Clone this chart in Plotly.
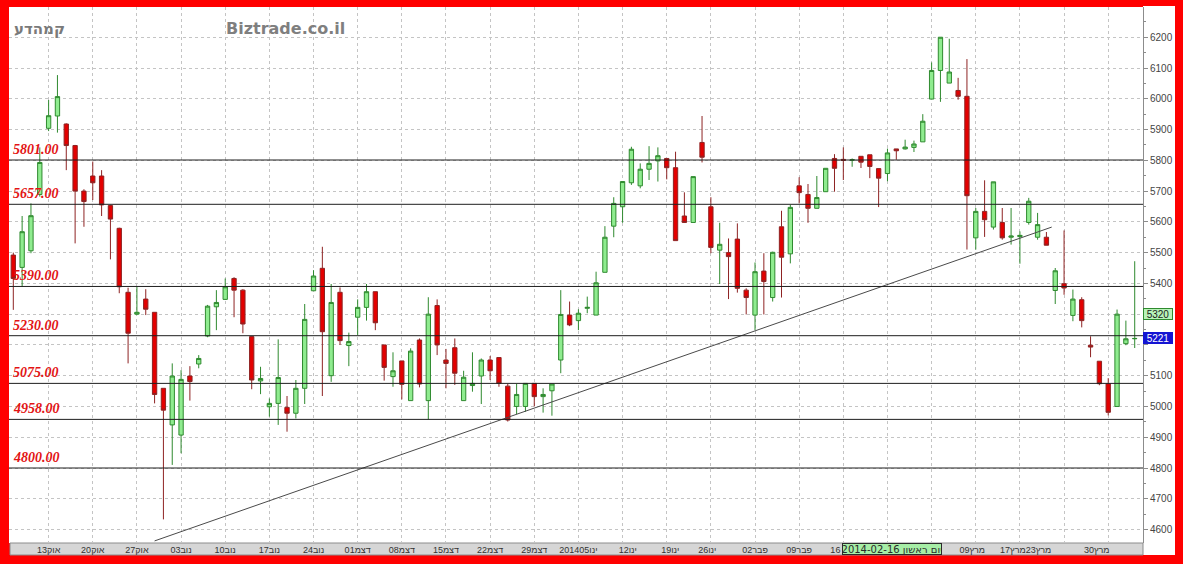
import plotly.graph_objects as go

# ---------------- data ----------------
opens = [5492, 5452, 5506, 5689, 5904, 5944, 5918, 5848, 5700, 5749,
         5749, 5653, 5579, 5371, 5300, 5349, 5306, 5059, 4940, 4907,
         5099, 5138, 5229, 5324, 5348, 5416, 5378, 5227, 5083, 4999,
         5010, 4997, 4978, 5059, 5376, 5449, 5100, 5371, 5198, 5290,
         5322, 5373, 5200, 5097, 5148, 5019, 5216, 5019, 5328, 5151,
         5191, 5019, 5068, 5099, 5151, 5159, 5066, 5000, 5000, 5075,
         5032, 5051, 5151, 5297, 5279, 5319, 5297, 5436, 5586, 5649,
         5727, 5717, 5771, 5798, 5806, 5776, 5619, 5598, 5858, 5649,
         5508, 5500, 5544, 5378, 5297, 5440, 5354, 5584, 5496, 5717,
         5689, 5644, 5698, 5806, 5803, 5800, 5813, 5818, 5773, 5757,
         5837, 5837, 5842, 5860, 5999, 6092, 6051, 6027, 6008, 5548,
         5634, 5583, 5598, 5550, 5552, 5598, 5550, 5550, 5377, 5399,
         5296, 5347, 5199, 5147, 5074, 5000, 5204, 5220]
highs = [5500, 5619, 5660, 5842, 5996, 6077, 5920, 5850, 5706, 5796,
         5768, 5655, 5581, 5386, 5389, 5381, 5306, 5059, 5140, 5118,
         5131, 5167, 5330, 5378, 5416, 5420, 5381, 5227, 5129, 5026,
         5218, 5034, 5086, 5333, 5443, 5519, 5398, 5387, 5240, 5348,
         5398, 5373, 5200, 5176, 5148, 5189, 5221, 5355, 5348, 5187,
         5221, 5116, 5176, 5156, 5164, 5159, 5073, 5073, 5075, 5075,
         5059, 5073, 5378, 5341, 5316, 5357, 5438, 5586, 5680, 5731,
         5844, 5790, 5846, 5842, 5806, 5828, 5696, 5747, 5944, 5680,
         5597, 5546, 5595, 5384, 5468, 5498, 5503, 5636, 5655, 5745,
         5723, 5749, 5774, 5820, 5842, 5806, 5813, 5818, 5773, 5838,
         5837, 5867, 5864, 5950, 6118, 6200, 6195, 6068, 6129, 5645,
         5735, 5730, 5645, 5645, 5569, 5678, 5629, 5567, 5450, 5572,
         5380, 5355, 5228, 5147, 5092, 5315, 5279, 5472]
lows = [5314, 5389, 5498, 5682, 5895, 5890, 5768, 5530, 5584, 5671,
        5619, 5478, 5368, 5140, 5297, 5297, 5010, 4633, 4810, 4848,
        5019, 5124, 5225, 5248, 5346, 5290, 5238, 5056, 5040, 4967,
        4940, 4918, 4961, 5008, 5376, 5034, 5080, 5200, 5131, 5232,
        5279, 5248, 5084, 5064, 5023, 5019, 5062, 4958, 5167, 5059,
        5070, 5019, 5048, 5008, 5086, 5064, 4951, 4975, 4983, 5000,
        4980, 4970, 5108, 5261, 5248, 5303, 5297, 5436, 5550, 5597,
        5720, 5709, 5736, 5731, 5738, 5539, 5598, 5598, 5793, 5498,
        5398, 5349, 5370, 5299, 5248, 5299, 5341, 5354, 5465, 5660,
        5597, 5644, 5698, 5698, 5736, 5779, 5775, 5742, 5648, 5732,
        5802, 5835, 5827, 5860, 5999, 5990, 6051, 5997, 5510, 5510,
        5551, 5575, 5542, 5526, 5464, 5591, 5542, 5524, 5333, 5363,
        5277, 5257, 5160, 5069, 4971, 5000, 5199, 5190]
closes = [5416, 5568, 5620, 5793, 5945, 6007, 5848, 5700, 5666, 5727,
          5655, 5609, 5389, 5238, 5306, 5316, 5039, 4988, 5099, 5088,
          5081, 5156, 5326, 5338, 5389, 5378, 5268, 5086, 5091, 5010,
          5094, 4978, 5059, 5283, 5424, 5243, 5338, 5214, 5211, 5322,
          5373, 5272, 5127, 5116, 5072, 5180, 5073, 5300, 5200, 5140,
          5108, 5095, 5075, 5151, 5116, 5075, 4956, 5039, 5075, 5032,
          5039, 5073, 5299, 5265, 5303, 5322, 5402, 5550, 5660, 5731,
          5836, 5771, 5790, 5815, 5776, 5539, 5598, 5747, 5810, 5517,
          5527, 5487, 5384, 5354, 5438, 5406, 5501, 5485, 5647, 5695,
          5644, 5679, 5774, 5774, 5800, 5802, 5794, 5780, 5742, 5824,
          5831, 5843, 5853, 5927, 6092, 6200, 6087, 6008, 5685, 5634,
          5607, 5730, 5548, 5554, 5556, 5667, 5591, 5524, 5441, 5385,
          5349, 5279, 5193, 5074, 4981, 5300, 5220, 5221]
candle_idx = list(range(len(opens)))

# support / resistance levels
levels = [5801, 5657, 5390, 5230, 5075, 4958, 4800]

# trend line (two end points: candle index, price)
trend_x = [16.0, 117.6]
trend_y = [4563, 5583]

# x-axis tick labels (candle index position, text)
tick_pos = [4, 9, 14, 19, 24, 29, 34, 39, 44, 49, 54, 59, 64, 69.6, 74.4,
            78.6, 84, 89, 93.1, 108.6, 113.2, 116.1, 122.7]
tick_text = ["13אוק", "20אוק", "27אוק", "03נוב", "10נוב", "17נוב", "24נוב",
             "01דצמ", "08דצמ", "15דצמ", "22דצמ", "29דצמ", "201405ינו",
             "12ינו", "19ינו", "26ינו", "02פבר", "09פבר", "16",
             "09מרץ", "17מרץ", "23מרץ", "30מרץ"]
grid_pos = list(range(4, 128, 5))

# y-axis ticks (labels under the price boxes are hidden, as in the original)
y_ticks = list(range(4600, 6301, 100))
y_hidden = [5200, 5300]
y_text = ["" if v in y_hidden else str(v) for v in y_ticks]

# cursor label and price markers
cursor_pos = 99.5
cursor_text = "2014-02-16 יום ראשון"
mark_high = 5320
mark_last = 5221

title_left = "קמהדע"
title_site = "Biztrade.co.il"

# ---------------- figure ----------------
W, H = 1183, 564
ML, MR, MT, MB = 9, 40, 7, 21
plot_w = W - ML - MR
plot_h = H - MT - MB


def px_x(px):
    return (px - ML) / plot_w


def px_y(py):
    return (H - MB - py) / plot_h


RED = "#ff0000"
fig = go.Figure()

fig.add_trace(go.Candlestick(
    x=candle_idx, open=opens, high=highs, low=lows, close=closes,
    increasing=dict(line=dict(color="#2f8a2f", width=1), fillcolor="#8fec8f"),
    decreasing=dict(line=dict(color="#8e2323", width=1), fillcolor="#e30000"),
    whiskerwidth=0, showlegend=False, hoverinfo="skip",
))

fig.add_trace(go.Scatter(
    x=trend_x, y=trend_y, mode="lines", xaxis="x2",
    line=dict(color="#4a4a4a", width=1), showlegend=False, hoverinfo="skip",
))

for lv in levels:
    fig.add_hline(y=lv, line=dict(color="#1e1e1e", width=1), layer="above")
    fig.add_annotation(
        xref="paper", x=px_x(11), xanchor="left",
        yref="y", y=lv, yanchor="bottom", yshift=1,
        text="<b><i>%.2f</i></b>" % lv, showarrow=False,
        font=dict(family="Liberation Serif", size=14, color="#e31414"),
    )

# backgrounds for axis areas
fig.add_shape(type="rect", xref="paper", yref="paper", layer="below",
              x0=1, x1=px_x(1175), y0=px_y(555), y1=px_y(5),
              fillcolor="white", line=dict(width=0))
fig.add_shape(type="rect", xref="paper", yref="paper", layer="below",
              x0=px_x(10), x1=1, y0=px_y(555), y1=0,
              fillcolor="#d6d6d6", line=dict(color="#8c8c8c", width=1))
# top border mask (clips the top tick label like the original)
fig.add_shape(type="rect", xref="paper", yref="paper", layer="above",
              x0=-0.02, x1=1.06, y0=px_y(6), y1=1.05,
              fillcolor=RED, line=dict(width=0))

# titles
fig.add_annotation(xref="paper", yref="paper", x=px_x(12), y=px_y(29),
                   xanchor="left", yanchor="middle", showarrow=False,
                   text="<b>%s</b>" % title_left,
                   font=dict(family="DejaVu Sans", size=15, color="#7a7a7a"))
fig.add_annotation(xref="paper", yref="paper", x=px_x(224), y=px_y(28),
                   xanchor="left", yanchor="middle", showarrow=False,
                   text="<b>%s</b>" % title_site,
                   font=dict(family="DejaVu Sans", size=16, color="#7f7f7f"))

# cursor date box
fig.add_annotation(xref="x", yref="paper", x=cursor_pos, y=px_y(549),
                   xanchor="center", yanchor="middle", showarrow=False,
                   text=cursor_text, width=98, height=10, borderpad=0,
                   bgcolor="#a6eea6", bordercolor="#2a2a2a", borderwidth=1,
                   font=dict(family="DejaVu Sans", size=10, color="#2a2a2a"))

# price boxes on the right axis
fig.add_annotation(xref="paper", yref="y", x=1, y=mark_high, yshift=-6,
                   xanchor="left", yanchor="middle", showarrow=False,
                   text=str(mark_high), width=28, height=10, borderpad=0,
                   bgcolor="#b8f3b8", bordercolor="#2f8a2f", borderwidth=1,
                   font=dict(family="Liberation Sans", size=10, color="#1a1a1a"))
fig.add_annotation(xref="paper", yref="y", x=1, y=mark_last,
                   xanchor="left", yanchor="middle", showarrow=False,
                   text=str(mark_last), width=28, height=10, borderpad=0,
                   bgcolor="#1414d2", bordercolor="#1414d2", borderwidth=1,
                   font=dict(family="Liberation Sans", size=10, color="white"))

xr = [(ML - 13.3) / 8.83, (W - MR - 13.3) / 8.83]
fig.update_layout(
    width=W, height=H,
    margin=dict(l=ML, r=MR, t=MT, b=MB, pad=0, autoexpand=False),
    paper_bgcolor=RED, plot_bgcolor="white",
    showlegend=False,
    xaxis=dict(
        range=xr, rangeslider=dict(visible=False), automargin=False,
        tickmode="array", tickvals=tick_pos, ticktext=tick_text,
        tickangle=0,
        showgrid=False, zeroline=False, ticks="", showline=False,
        tickfont=dict(family="Liberation Sans", size=9, color="#333333"),
        fixedrange=True,
    ),
    xaxis2=dict(
        overlaying="x", matches="x", side="bottom", automargin=False,
        tickmode="array", tickvals=grid_pos, showticklabels=False,
        showgrid=True, gridcolor="#c4c4c4", griddash="dot", gridwidth=1,
        zeroline=False, ticks="", showline=False,
    ),
    yaxis=dict(
        side="right", range=[4556.25, 6298.25], automargin=False,
        tickmode="array", tickvals=y_ticks, ticktext=y_text,
        showgrid=True, gridcolor="#c4c4c4", griddash="dot", gridwidth=1,
        zeroline=False, showline=True, linecolor="#8c8c8c", linewidth=1,
        ticks="outside", ticklen=4, tickcolor="#8c8c8c",
        minor=dict(dtick=50, tick0=4550, ticks="outside", ticklen=2,
                   tickcolor="#8c8c8c", showgrid=False),
        tickfont=dict(family="Liberation Sans", size=10, color="#444444"),
        fixedrange=True,
    ),
)

fig.write_html(
    "out.html",
    config={"displayModeBar": False, "staticPlot": True},
    post_script="document.body.style.margin='0';"
                "document.body.style.background='#ff0000';"
                "document.body.style.overflow='hidden';",
)
